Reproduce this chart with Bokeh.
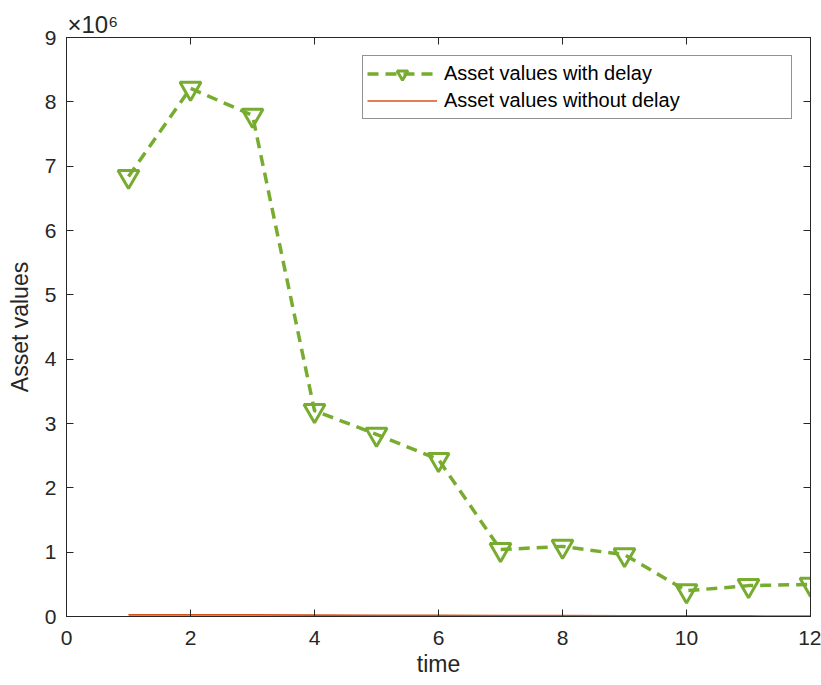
from bokeh.plotting import figure
from bokeh.models import (LinearAxis, Legend, LegendItem, Range1d,
                          FixedTicker, CustomJSTickFormatter)
from bokeh.embed import file_html
from bokeh.resources import INLINE

time = [1, 2, 3, 4, 5, 6, 7, 8, 9, 10, 11, 12]
with_delay = [6.84e6, 8.21e6, 7.79e6, 3.20e6, 2.83e6, 2.44e6,
              1.04e6, 1.09e6, 0.96e6, 0.40e6, 0.48e6, 0.50e6]
without_delay = [25000, 27000, 26000, 22000, 20000, 18000,
                 15000, 14000, 12000, 10000, 9000, 8000]
x_ticks = [0, 2, 4, 6, 8, 10, 12]
y_ticks = [i * 1e6 for i in range(10)]
exponent_label = "×10⁶"

FONT = "Liberation Sans"
AX = "#262626"
GREEN = "#77AC30"
RED = "#D95319"

W, H = 821, 685
L, R, T, B = 66, 11, 37, 69

p = figure(width=W, height=H, output_backend="svg", toolbar_location=None,
           x_range=Range1d(0, 12), y_range=Range1d(0, 9e6),
           min_border_left=L, min_border_right=R, min_border_top=T,
           min_border_bottom=B, x_axis_location=None, y_axis_location=None,
           title=exponent_label)
p.grid.visible = False
p.outline_line_color = AX
p.outline_line_width = 1
p.title.text_font = FONT
p.title.text_font_size = "24px"
p.title.text_font_style = "normal"
p.title.text_color = AX
p.title.align = "left"
p.title.offset = 1
p.title.standoff = 0

fmt = CustomJSTickFormatter(code="return (tick/1e6).toFixed(0);")

def style(ax, labels=True):
    ax.axis_line_color = AX
    ax.axis_line_width = 1
    ax.major_tick_line_color = AX
    ax.major_tick_in = 7
    ax.major_tick_out = 0
    ax.minor_tick_line_color = None
    ax.major_label_text_font = FONT
    ax.axis_label_text_font = FONT
    ax.axis_label_text_font_style = "normal"
    ax.axis_label_text_color = AX
    ax.axis_label_text_font_size = "23px"
    if labels:
        ax.major_label_text_color = AX
        ax.major_label_text_font_size = "21px"
    else:
        ax.major_label_text_color = None
        ax.major_label_text_font_size = "1px"
        ax.major_label_standoff = 0

xb = LinearAxis(ticker=FixedTicker(ticks=x_ticks), axis_label="time")
style(xb)
xb.major_label_standoff = 14
xb.axis_label_standoff = 3
p.add_layout(xb, "below")

yl = LinearAxis(ticker=FixedTicker(ticks=y_ticks), formatter=fmt,
                axis_label="Asset values")
style(yl)
yl.major_label_standoff = 10
yl.axis_label_standoff = 9
p.add_layout(yl, "left")

xt = LinearAxis(ticker=FixedTicker(ticks=x_ticks))
style(xt, labels=False)
p.add_layout(xt, "above")

yr = LinearAxis(ticker=FixedTicker(ticks=y_ticks))
style(yr, labels=False)
p.add_layout(yr, "right")

l1 = p.line(time, with_delay, line_color=GREEN, line_width=3.5, line_dash="11 7")
m1 = p.scatter(time, with_delay, marker="inverted_triangle", size=21,
               line_color=GREEN, line_width=3, fill_color=None)
l2 = p.line(time, without_delay, line_color=RED, line_width=1.6)

legend = Legend(items=[LegendItem(label="Asset values with delay", renderers=[l1, m1]),
                       LegendItem(label="Asset values without delay", renderers=[l2])],
                location="top_right", margin=18, padding=4, spacing=0,
                glyph_width=70, glyph_height=27, label_height=27,
                label_standoff=7, label_width=343,
                label_text_font=FONT, label_text_font_size="20px",
                label_text_color="#000000",
                border_line_color=AX, border_line_width=1,
                background_fill_color="white", background_fill_alpha=1)
p.add_layout(legend)

open("out.html", "w").write(file_html(p, INLINE))
